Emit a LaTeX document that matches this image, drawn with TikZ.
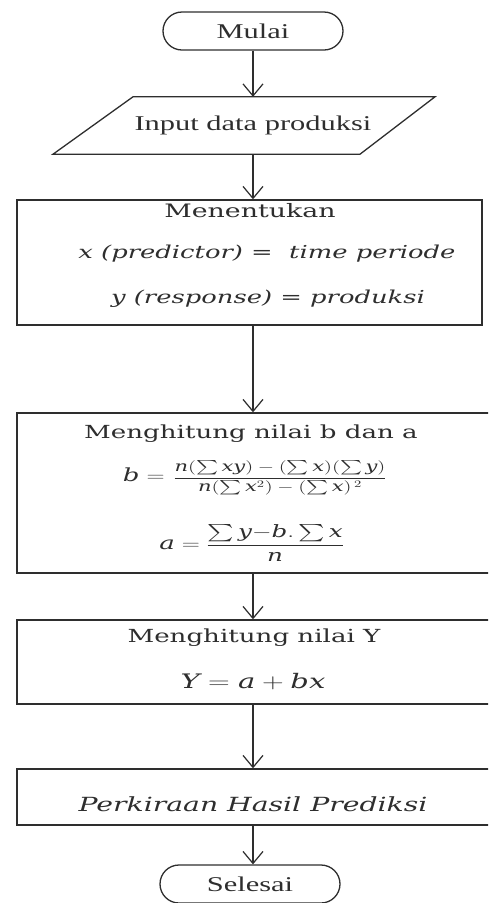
\documentclass[tikz,border=0pt]{standalone}
\usepackage{amsmath}
\usepackage{fontspec}
\setmainfont{Liberation Serif}
\newfontfamily\cam{DejaVu Serif}
\usetikzlibrary{arrows.meta}
\newcommand\hs[1]{\scalebox{1.45}[1]{#1}}
\definecolor{ink}{HTML}{2E2E2E}
\begin{document}
\begin{tikzpicture}[x=1pt,y=-1pt,color=ink,
  term/.style={draw, rounded corners=19pt, minimum width=180pt, minimum height=38pt, inner sep=0pt, line width=1.3pt},
  box/.style={draw, rectangle, inner sep=0pt, line width=1.4pt},
  arr/.style={-{Straight Barb[length=12pt,width=20pt]}, line width=1.2pt},
  lbl/.style={inner sep=0pt}
]
\useasboundingbox (0,0) rectangle (488,903);
\clip (0,0) rectangle (488,903);

% terminals and input
\node[term] (mulai) at (253,31) {\hs{\fontsize{21}{25}\selectfont Mulai}};
\node[lbl, minimum width=300pt, minimum height=57pt] (input) at (253,125.5) {\hs{\fontsize{21}{25}\selectfont Input data produksi}};
\draw[line width=1.3pt] ([xshift=-120pt]input.north) -- ([xshift=182pt]input.north) -- ([xshift=107pt]input.south) -- ([xshift=-200pt]input.south) -- cycle;

% box 1
\node[box, minimum width=465pt, minimum height=125pt] (b1) at (249.5,262.5) {};
\node[lbl, anchor=base] (t1) at (250,217) {\hs{\cam\fontsize{18.5}{22}\selectfont Menentukan}};
\node[lbl] (t2) at (267,254) {\hs{\cam\fontsize{17.8}{20}\selectfont\itshape x (predictor) {\upshape =}\ \ time periode}};
\node[lbl] (t3) at (268,299) {\hs{\cam\fontsize{17.8}{20}\selectfont\itshape y (response) {\upshape =} produksi}};

% box 2
\node[box, minimum width=483pt, minimum height=160pt] (b2) at (258.5,493) {};
\node[lbl, anchor=base] (t4) at (251,438) {\hs{\cam\fontsize{18}{22}\selectfont Menghitung nilai b dan a}};
\node[lbl] (t5) at (255,478) {\hs{\cam\fontsize{18}{22}\selectfont $\textit{b} = $ {\fontsize{14.5}{17}\selectfont $\dfrac{\textit{n}(\sum \textit{xy})-(\sum \textit{x})(\sum \textit{y})}{\textit{n}(\sum \textit{x}^{2})-(\sum \textit{x})^{\,2}}$}}};
\node[lbl] (t6) at (252,543) {\hs{\cam\fontsize{18}{22}\selectfont $\textit{a} =$\hspace{4pt}{\fontsize{17}{20}\selectfont $\dfrac{\sum \textit{y}{-}\textit{b}.\sum \textit{x}}{\textit{n}}$}}};

% box 3
\node[box, minimum width=483pt, minimum height=84pt] (b3) at (258.5,662) {};
\node[lbl, anchor=base] (t7) at (254,642) {\hs{\cam\fontsize{18}{22}\selectfont Menghitung nilai Y}};
\node[lbl] (t8) at (253,682) {\hs{\cam\fontsize{20}{24}\selectfont $\textit{Y} = \textit{a} + \textit{bx}$}};

% box 4
\node[box, minimum width=483pt, minimum height=56pt] (b4) at (258.5,797) {};
\node[lbl, anchor=base] (t9) at (253,811) {\hs{\cam\fontsize{19.5}{22}\selectfont\itshape Perkiraan Hasil Prediksi}};

\node[term] (selesai) at (250,884) {\hs{\fontsize{21}{25}\selectfont Selesai}};

% connectors
\draw[arr] (mulai.south) -- (input.north);
\draw[arr] (input.south) -- (input.south |- b1.north);
\draw[arr] (input.south |- b1.south) -- (input.south |- b2.north);
\draw[arr] (input.south |- b2.south) -- (input.south |- b3.north);
\draw[arr] (input.south |- b3.south) -- (input.south |- b4.north);
\draw[arr] (input.south |- b4.south) -- (input.south |- selesai.north);
\end{tikzpicture}
\end{document}
